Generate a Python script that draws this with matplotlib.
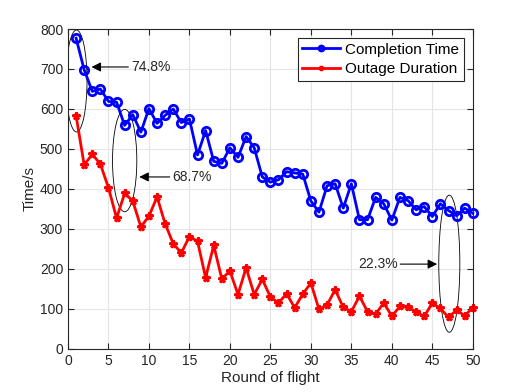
import matplotlib
matplotlib.use("Agg")
import matplotlib.pyplot as plt
from matplotlib.patches import Ellipse
import numpy as np

plt.rcParams['font.family'] = ['Liberation Sans', 'DejaVu Sans']

# round of flight
rounds = np.arange(1, 51)

# completion time (s)
completion = [777, 698, 644, 650, 619, 617, 559, 586, 542, 601,
              564, 584, 600, 566, 575, 485, 546, 469, 464, 503,
              479, 531, 503, 430, 417, 423, 443, 440, 437, 370,
              342, 408, 413, 352, 413, 323, 323, 379, 363, 322,
              379, 371, 348, 356, 331, 363, 346, 333, 352, 339]

# outage duration (s)
outage = [583, 460, 487, 462, 403, 327, 389, 370, 305, 332,
          380, 313, 263, 240, 281, 269, 178, 259, 175, 195,
          136, 203, 136, 174, 130, 115, 138, 103, 137, 165,
          99, 110, 148, 104, 93, 132, 93, 87, 115, 82,
          106, 104, 93, 81, 115, 101, 79, 97, 83, 103]

# annotations: ellipse centre/size and arrow head/text positions (data units)
ellipses = [(1.05, 670, 2.6, 255), (7.0, 471, 3.0, 256), (47.1, 213, 2.6, 343)]
labels = ["74.8%", "68.7%", "22.3%"]
arrow_heads = [(2.9, 705), (8.8, 430), (45.6, 212)]
text_pos = [(7.8, 705, 'left'), (12.9, 430, 'left'), (40.7, 212, 'right')]

fig = plt.figure(figsize=(5.23, 3.92), dpi=100)
ax = fig.add_axes([0.130, 0.110, 0.774, 0.816])

ax.plot(rounds, completion, '-o', color='blue', lw=2, ms=6,
        mfc='none', mew=2, label='Completion Time', clip_on=False)
ax.plot(rounds, outage, '-*', color='red', lw=2, ms=5.5,
        mew=2, label='Outage Duration', clip_on=False)

for (cx, cy, w, h) in ellipses:
    ax.add_patch(Ellipse((cx, cy), w, h, fill=False, ec='black', lw=0.6))

for lab, head, (tx, ty, ha) in zip(labels, arrow_heads, text_pos):
    ax.annotate(lab, xy=head, xytext=(tx, ty), ha=ha, va='center',
                fontsize=10, color='#262626',
                arrowprops=dict(arrowstyle='-|>', color='black', lw=0.8,
                                mutation_scale=14, shrinkA=0, shrinkB=0))

ax.set_xlim(0, 50)
ax.set_ylim(0, 800)
ax.set_xticks(np.arange(0, 51, 5))
ax.set_yticks(np.arange(0, 801, 100))
ax.grid(True, color='#e5e5e5', lw=0.8)
ax.set_axisbelow(True)
ax.tick_params(direction='in', length=4, labelsize=10, colors='#262626',
               top=True, right=True)
for s in ax.spines.values():
    s.set_color('#262626')
    s.set_linewidth(0.8)
ax.set_xlabel('Round of flight', fontsize=11, color='#262626', labelpad=2)
ax.set_ylabel('Time/s', fontsize=11, color='#262626', labelpad=2)

leg = ax.legend(loc='upper right', fontsize=11, fancybox=False,
                edgecolor='#262626', framealpha=1, borderpad=0.3,
                handlelength=2.5, handletextpad=0.3, labelspacing=0.35,
                borderaxespad=0.6, markerscale=0.6)
leg.get_frame().set_linewidth(0.8)

fig.savefig('out.png', dpi=100)
